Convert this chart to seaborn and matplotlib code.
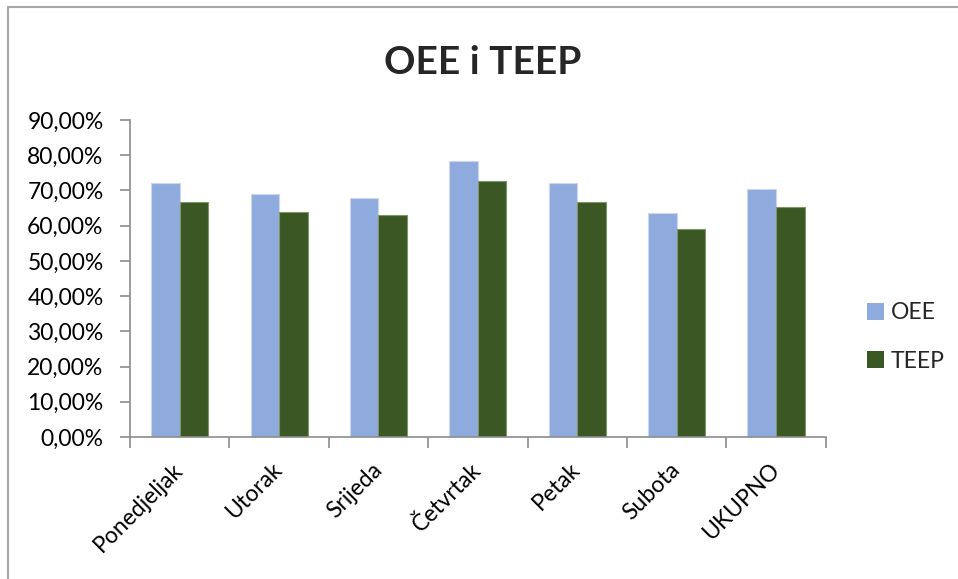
import numpy as np
import pandas as pd
import seaborn as sns
import matplotlib.pyplot as plt
from matplotlib.patches import Patch
from matplotlib.lines import Line2D
from matplotlib.ticker import FuncFormatter, FixedLocator

dani = ['Ponedjeljak', 'Utorak', 'Srijeda', 'Četvrtak', 'Petak', 'Subota', 'UKUPNO']
oee = [0.721, 0.689, 0.678, 0.785, 0.721, 0.635, 0.705]
teep = [0.668, 0.638, 0.629, 0.728, 0.668, 0.590, 0.653]
serije = ['OEE', 'TEEP']
boje = ['#8FAADC', '#3A5724']
rubovi = ['#C9D6EE', '#7F9467']

df = pd.DataFrame({
    'Dan': dani * 2,
    'Vrijednost': oee + teep,
    'Serija': ['OEE'] * len(dani) + ['TEEP'] * len(dani),
})

sns.set_style('white')
plt.rcParams['font.family'] = ['Lato', 'DejaVu Sans']

fig = plt.figure(figsize=(9.58, 5.79), dpi=100)
ax = fig.add_axes([130 / 958, 1 - 437 / 579, (825.7 - 130) / 958, (437 - 120) / 579])

sns.barplot(data=df, x='Dan', y='Vrijednost', hue='Serija', order=dani,
            hue_order=serije, palette=boje, width=0.575, saturation=1,
            ax=ax, legend=False)

for cont, ec in zip(ax.containers, rubovi):
    for p in cont:
        p.set_edgecolor(ec)
        p.set_linewidth(0.8)

ax.set_xlim(-0.5, len(dani) - 0.5)
ax.set_ylim(0, 0.9)
ax.set_yticks(np.arange(0, 0.91, 0.1))
ax.yaxis.set_major_formatter(FuncFormatter(lambda v, p: f'{v * 100:.2f}%'.replace('.', ',')))
ax.set_xlabel('')
ax.set_ylabel('')

siva = '#8C8C8C'
vel = 16.5
for s in ['top', 'right']:
    ax.spines[s].set_visible(False)
for s in ['left', 'bottom']:
    ax.spines[s].set_color(siva)
    ax.spines[s].set_linewidth(1.2)

ax.tick_params(axis='y', which='major', length=7, width=1.2, color=siva,
               direction='out', left=True, pad=12, labelsize=vel, labelcolor='black')
ax.xaxis.set_minor_locator(FixedLocator(np.arange(-0.5, len(dani), 1.0)))
ax.tick_params(axis='x', which='minor', length=8, width=1.2, color=siva,
               direction='out', bottom=True)
ax.tick_params(axis='x', which='major', length=0, pad=21, labelsize=vel,
               labelcolor='black')
for lbl in ax.get_xticklabels():
    lbl.set_rotation(45)
    lbl.set_ha('right')
    lbl.set_va('center')
    lbl.set_rotation_mode('anchor')

fig.suptitle('OEE i TEEP', x=483 / 958, y=1 - 62 / 579, va='center',
             fontsize=28, fontweight='bold')

ruke = [Patch(facecolor=c, edgecolor='none') for c in boje]
fig.legend(ruke, serije, loc='center left', bbox_to_anchor=(867 / 958, 1 - 337 / 579),
           frameon=False, fontsize=vel, handlelength=0.75, handleheight=0.75,
           handletextpad=0.3, labelspacing=1.2, borderpad=0, borderaxespad=0)

fig.add_artist(Line2D([8 / 958, 1], [1 - 7 / 579, 1 - 7 / 579], color='#A6A6A6', lw=1.5))
fig.add_artist(Line2D([8 / 958, 8 / 958], [0, 1 - 7 / 579], color='#A6A6A6', lw=1.5))

fig.savefig('out.png', dpi=100, facecolor='white')
